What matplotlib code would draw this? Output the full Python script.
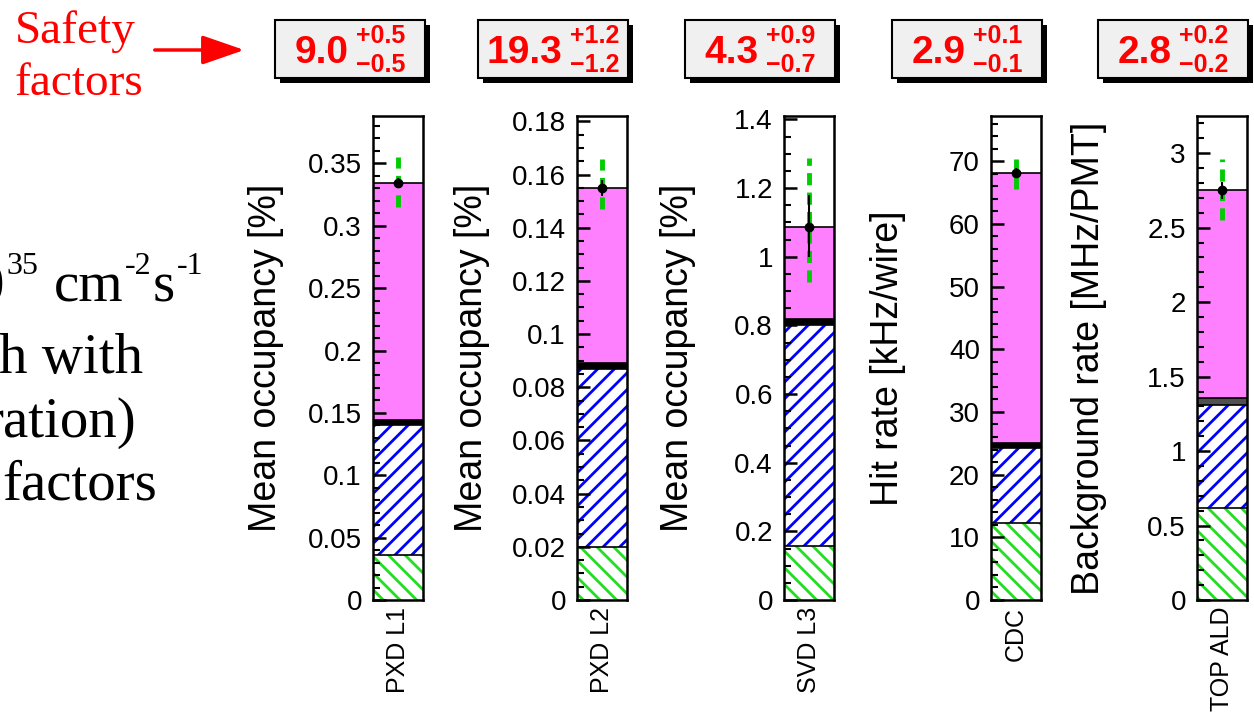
#! /usr/bin/env python
# coding=utf8

'''
Background composition per sub-detector, with safety factors on top.
'''

import numpy as np
import matplotlib
matplotlib.use('Agg')
import matplotlib.pyplot as plt
from matplotlib import rcParams
from matplotlib.patches import Rectangle, FancyArrowPatch
from matplotlib.ticker import MultipleLocator, FuncFormatter

rcParams['font.family'] = 'Liberation Sans'
rcParams['hatch.linewidth'] = 2.0

W, H = 1254, 713

# Data {{{
detectors = ['PXD L1', 'PXD L2', 'SVD L3', 'CDC', 'TOP ALD']
ylabels = ['Mean occupancy [%]', 'Mean occupancy [%]', 'Mean occupancy [%]',
           'Hit rate [kHz/wire]', 'Background rate [MHz/PMT]']
green_part = [0.036, 0.020, 0.156, 12.3, 0.617]
blue_part = [0.104, 0.067, 0.644, 11.9, 0.692]
black_part = [0.004, 0.002, 0.018, 0.8, 0.05]
pink_part = [0.190, 0.066, 0.268, 43.1, 1.391]
meas = [0.334, 0.155, 1.086, 68.1, 2.75]
meas_lo = [0.330, 0.152, 1.00, 67.3, 2.69]
meas_hi = [0.338, 0.158, 1.18, 68.9, 2.81]
sys_lo = [0.315, 0.147, 0.925, 65.5, 2.55]
sys_hi = [0.355, 0.166, 1.288, 70.3, 2.96]
ymax = [0.388, 0.182, 1.41, 77.2, 3.25]
major = [0.05, 0.02, 0.2, 10, 0.5]
minor = [0.01, 0.005, 0.05, 2, 0.1]

sf = ['9.0', '19.3', '4.3', '2.9', '2.8']
sf_up = ['+0.5', '+1.2', '+0.9', '+0.1', '+0.2']
sf_dn = ['\u22120.5', '\u22121.2', '\u22120.7', '\u22120.1', '\u22120.2']
# }}}

GREEN = '#22dd22'
GDASH = '#00cc00'
PINK = '#ff80ff'
band_color = ['black', 'black', 'black', 'black', '#505050']

fig = plt.figure(figsize=(W / 100., H / 100.), dpi=100)


def fx(x):
    return x / float(W)


def fy(y):
    return 1 - y / float(H)


# Panels {{{
ax_left = [373, 577, 784, 991, 1197]
ax_w = 50
ax_top, ax_bot = 116, 600
lab_x = [266, 472, 678, 888, 1089]

fmt = FuncFormatter(lambda v, p: '%g' % round(v, 6))

for i in range(5):
    ax = fig.add_axes([fx(ax_left[i]), fy(ax_bot), ax_w / float(W), (ax_bot - ax_top) / float(H)])
    levels = np.cumsum([0, green_part[i], blue_part[i], black_part[i], pink_part[i]])
    ax.bar(0.5, green_part[i], width=1, bottom=0, facecolor='white',
           edgecolor=GREEN, hatch='\\\\', lw=0)
    ax.bar(0.5, blue_part[i], width=1, bottom=levels[1], facecolor='white',
           edgecolor='blue', hatch='//', lw=0)
    ax.bar(0.5, black_part[i], width=1, bottom=levels[2], color=band_color[i], lw=0)
    ax.bar(0.5, pink_part[i], width=1, bottom=levels[3], color=PINK, lw=0)
    for lv in levels[1:]:
        ax.axhline(lv, color='k', lw=1.2)
    ax.plot([0.5, 0.5], [sys_lo[i], sys_hi[i]], color=GDASH, lw=3.5,
            ls=(0, (2.5, 1.5)), dash_capstyle='butt')
    ax.vlines(0.5, meas_lo[i], meas_hi[i], color='k', lw=1.5)
    ax.plot(0.5, meas[i], 'o', color='k', ms=6)

    ax.set_xlim(0, 1)
    ax.set_ylim(0, ymax[i])
    ax.yaxis.set_major_locator(MultipleLocator(major[i]))
    ax.yaxis.set_minor_locator(MultipleLocator(minor[i]))
    ax.yaxis.set_major_formatter(fmt)
    ax.tick_params(axis='y', which='major', direction='in', length=9, width=1.8,
                   labelsize=20, pad=8, right=False)
    ax.tick_params(axis='y', which='minor', direction='in', length=5, width=1.5, right=False)
    ax.set_xticks([0.5])
    ax.set_xticklabels([detectors[i]], rotation=90, fontsize=18)
    ax.tick_params(axis='x', length=0, pad=5)
    for s in ax.spines.values():
        s.set_linewidth(1.8)
    ax.set_ylabel(ylabels[i], fontsize=27, va='center')
    ax.yaxis.set_label_coords((lab_x[i] - ax_left[i]) / float(ax_w), 0.5)
# }}}

renderer = fig.canvas.get_renderer()

# Safety factor boxes {{{
box_left = [275, 478, 685, 892, 1098]
box_w = 150
box_top, box_bot = 20, 78
for i in range(5):
    l = box_left[i]
    fig.patches.append(Rectangle((fx(l + 5), fy(box_bot + 5)), box_w / float(W),
                                 (box_bot - box_top) / float(H), transform=fig.transFigure,
                                 facecolor='black', edgecolor='none', zorder=1))
    fig.patches.append(Rectangle((fx(l), fy(box_bot)), box_w / float(W),
                                 (box_bot - box_top) / float(H), transform=fig.transFigure,
                                 facecolor='#f0f0f0', edgecolor='black', lw=1.5, zorder=2))
    tn = fig.text(0, fy(63), sf[i], fontsize=28, weight='bold', color='red', va='baseline', zorder=3)
    tu = fig.text(0, fy(43), sf_up[i], fontsize=18, weight='bold', color='red', va='baseline', zorder=3)
    td = fig.text(0, fy(72), sf_dn[i], fontsize=18, weight='bold', color='red', va='baseline', zorder=3)
    wn = tn.get_window_extent(renderer).width
    ws = max(tu.get_window_extent(renderer).width, td.get_window_extent(renderer).width)
    x0 = l + (box_w - (wn + 8 + ws)) / 2.
    tn.set_x(fx(x0))
    tu.set_x(fx(x0 + wn + 8))
    td.set_x(fx(x0 + wn + 8))
# }}}

# Left annotations {{{
fig.text(fx(15), fy(43), 'Safety', fontsize=34, family='Liberation Serif', color='red', va='baseline')
fig.text(fx(15), fy(95), 'factors', fontsize=34, family='Liberation Serif', color='red', va='baseline')
fig.patches.append(FancyArrowPatch((fx(152), fy(50)), (fx(247), fy(50)), transform=fig.transFigure,
                                   arrowstyle='-|>,head_length=1.3,head_width=0.45',
                                   mutation_scale=20, color='red', lw=2.5))


def chain(pieces, x_right, y_base):
    items = []
    for s, size, dy, gap in pieces:
        t = fig.text(0, fy(y_base - dy), s, fontsize=size, family='Liberation Serif',
                     color='black', va='baseline')
        items.append((t, gap, t.get_window_extent(renderer).width))
    total = sum(g + w for _, g, w in items)
    x = x_right - total
    for t, g, w in items:
        x += g
        t.set_x(fx(x))
        x += w


chain([('0', 41, 0, 0), ('35', 23, 28, 2), ('cm', 41, 0, 16), ('-2', 23, 28, 1),
       ('s', 41, 0, 1), ('-1', 23, 28, 2)], 203, 302)
chain([('h with', 41, 0, 0)], 143, 373)
chain([('ration)', 41, 0, 0)], 137, 437)
chain([('factors', 41, 0, 0)], 157, 500)
# }}}

fig.savefig('out.png', dpi=100)
